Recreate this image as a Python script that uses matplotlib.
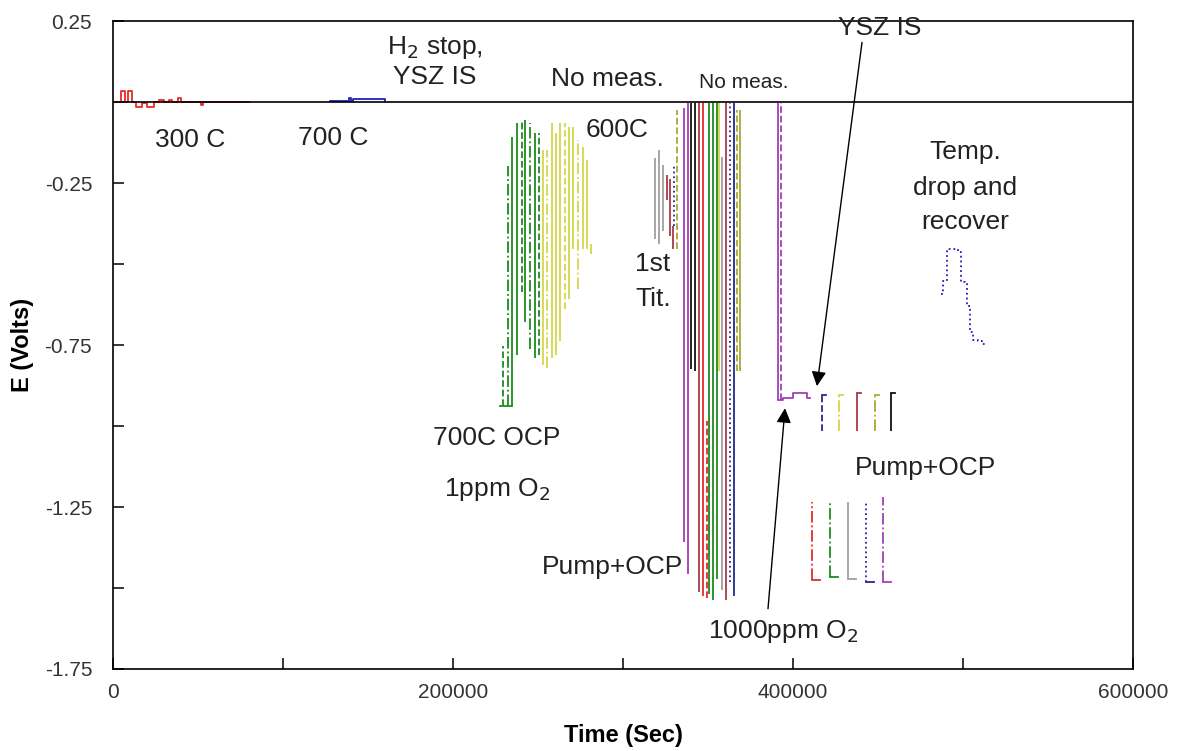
import matplotlib
matplotlib.use('Agg')
import matplotlib.pyplot as plt
from matplotlib.ticker import FixedLocator, FixedFormatter

plt.rcParams['font.family'] = ['Liberation Sans', 'DejaVu Sans']
plt.rcParams['axes.unicode_minus'] = False

# ---------------- data (time in s, potential in V) ----------------
# 300 C baseline (red) and 700 C baseline (blue)
red300_t = [0, 3000, 4500, 7000, 9000, 11000, 13500, 17000, 20000, 24000, 27000,
            30000, 33000, 35000, 38000, 40000, 52000, 53000, 80000]
red300_E = [0.0, 0.0, 0.035, 0.0, 0.035, 0.0, -0.015, -0.002, -0.016, 0.0, 0.006,
            0.0, 0.006, 0.0, 0.012, 0.0, -0.01, 0.0, 0.0]
blue700_t = [127600, 139000, 140000, 141000, 160000]
blue700_E = [0.002, 0.012, 0.002, 0.008, 0.002]

# 700C OCP, 1 ppm O2 (green then yellow)
g700_t = [229500, 232500, 234500, 237500, 240500, 242500, 245500, 248000, 250500]
g700_top = [-0.752, -0.199, -0.107, -0.064, -0.055, -0.055, -0.064, -0.095, -0.095]
g700_bot = [-0.939, -0.939, -0.939, -0.782, -0.586, -0.678, -0.761, -0.791, -0.782]
g700_base_t = [227600, 235000]
g700_base_E = [-0.939, -0.939]
y700_t = [253000, 255500, 258000, 260500, 263000, 266000, 268000, 270500, 273500,
          276500, 279000, 281000]
y700_top = [-0.147, -0.147, -0.064, -0.095, -0.064, -0.064, -0.077, -0.077, -0.117,
            -0.138, -0.178, -0.439]
y700_bot = [-0.813, -0.822, -0.791, -0.782, -0.739, -0.638, -0.607, -0.454, -0.577,
            -0.454, -0.454, -0.469]

# 600C, 1st titration
gray_tit_t = [318800, 321200, 323500]
gray_tit_top = [-0.172, -0.147, -0.193]
gray_tit_bot = [-0.423, -0.439, -0.399]
brown_tit_t = [325900, 327600, 329400]
brown_tit_top = [-0.224, -0.239, -0.383]
brown_tit_bot = [-0.301, -0.414, -0.454]
navy_tit_t = [330000]
navy_tit_top = [-0.199]
navy_tit_bot = [-0.383]
olive_tit_t = [332000]
olive_tit_top = [-0.025]
olive_tit_bot = [-0.454]

# Pump + OCP main cluster
purple_main_t = [335800, 338200]
purple_main_top = [-0.018, -0.003]
purple_main_bot = [-1.359, -1.457]
black_main_t = [340000, 342400]
black_main_top = [-0.003, -0.003]
black_main_bot = [-0.825, -0.831]
maroon_main_t = [344700, 360600]
maroon_main_top = [-0.003, -0.003]
maroon_main_bot = [-1.512, -1.537]
red_main_t = [347100, 349300]
red_main_top = [-0.003, -0.985]
red_main_bot = [-1.524, -1.530]
green_main_t = [350600, 352900, 355300]
green_main_top = [-0.003, -0.003, -0.003]
green_main_bot = [-1.518, -1.537, -1.472]
yellow_main_t = [356500]
yellow_main_top = [-0.003]
yellow_main_bot = [-0.831]
gray_main_t = [358200]
gray_main_top = [-0.169]
gray_main_bot = [-1.506]
navy_main_t = [362900, 365300]
navy_main_top = [-0.003, -0.003]
navy_main_bot = [-1.482, -1.524]
olive_main_t = [367100, 368800]
olive_main_top = [-0.025, -0.025]
olive_main_bot = [-0.831, -0.831]

# 1000 ppm O2
purple_1000_t = [391200, 392900]
purple_1000_top = [-0.003, -0.003]
purple_1000_bot = [-0.920, -0.920]
purple_step_t = [391200, 394100, 400000, 408200, 410000]
purple_step_E = [-0.920, -0.914, -0.899, -0.914, -0.914]
ocp1000_t = [417100, 427100, 437600, 448200, 457600]
ocp1000_top = [-0.905, -0.905, -0.899, -0.905, -0.899]
ocp1000_bot = [-1.015, -1.015, -1.015, -1.015, -1.015]
pump1000_t = [411200, 421800, 432400, 442900, 452900]
pump1000_top = [-1.236, -1.230, -1.236, -1.230, -1.220]
pump1000_bot = [-1.475, -1.466, -1.472, -1.482, -1.482]

# Temperature drop and recover (blue)
temp_t = [487000, 488200, 490600, 497100, 498800, 501200, 502400, 504100, 505900,
          508800, 511200, 513000]
temp_E = [-0.592, -0.552, -0.454, -0.463, -0.555, -0.560, -0.629, -0.709, -0.736,
          -0.739, -0.748, -0.748]

# ---------------- styling ----------------
RED = '#e52a2a'
MAROON = '#a83a48'
GREEN = '#1f8a1f'
YELLOW = '#d6d64a'
OLIVE = '#a8a830'
GRAY = '#a0a0a0'
NAVY = '#28288e'
BLUE = '#2020c0'
PURPLE = '#a040b0'
BLACK = '#111111'
LW = 1.3

fig = plt.figure(figsize=(11.78, 7.51), dpi=100)
ax = fig.add_axes([0.0959, 0.1092, 0.8659, 0.8628])


def vgroup(t, top, bot, colors, styles):
    n = len(t)
    cols = [colors[i % len(colors)] for i in range(n)]
    sts = [styles[i % len(styles)] for i in range(n)]
    ax.vlines(t, bot, top, colors=cols, linestyles=sts, linewidth=LW)


ax.step(red300_t, red300_E, where='post', color=RED, lw=LW)
ax.step(blue700_t, blue700_E, where='post', color=BLUE, lw=LW)

vgroup(g700_t, g700_top, g700_bot, [GREEN],
       ['--', '-.', '-', '-', '--', '-', '-.', '-', '--'])
ax.plot(g700_base_t, g700_base_E, color=GREEN, lw=LW)
vgroup(y700_t, y700_top, y700_bot, [YELLOW],
       ['-', '-.', '-', '-', '-', '--', '-', '-', '-.', '-', '-', '-'])

vgroup(gray_tit_t, gray_tit_top, gray_tit_bot, [GRAY], ['-'])
vgroup(brown_tit_t, brown_tit_top, brown_tit_bot, [MAROON], ['-'])
vgroup(navy_tit_t, navy_tit_top, navy_tit_bot, [NAVY], [':'])
vgroup(olive_tit_t, olive_tit_top, olive_tit_bot, [OLIVE], ['--'])

vgroup(purple_main_t, purple_main_top, purple_main_bot, [PURPLE], ['-'])
vgroup(black_main_t, black_main_top, black_main_bot, [BLACK], ['-'])
vgroup(maroon_main_t, maroon_main_top, maroon_main_bot, [MAROON], ['-'])
vgroup(red_main_t, red_main_top, red_main_bot, [RED], ['-', '--'])
vgroup(green_main_t, green_main_top, green_main_bot, [GREEN], ['-'])
vgroup(yellow_main_t, yellow_main_top, yellow_main_bot, [YELLOW], ['-'])
vgroup(gray_main_t, gray_main_top, gray_main_bot, [GRAY], ['-'])
vgroup(navy_main_t, navy_main_top, navy_main_bot, [NAVY], [':', '-'])
vgroup(olive_main_t, olive_main_top, olive_main_bot, [OLIVE], ['--', '-'])

vgroup(purple_1000_t, purple_1000_top, purple_1000_bot, [PURPLE], ['-', '--'])
ax.step(purple_step_t, purple_step_E, where='post', color=PURPLE, lw=LW)
ocp_cols = [NAVY, YELLOW, MAROON, OLIVE, BLACK]
ocp_sts = ['--', '-.', '-', '-.', '-']
vgroup(ocp1000_t, ocp1000_top, ocp1000_bot, ocp_cols, ocp_sts)
for t0, e0, c in zip(ocp1000_t, ocp1000_top, ocp_cols):
    ax.plot([t0, t0 + 2500], [e0, e0], color=c, lw=LW)
pump_cols = [RED, GREEN, GRAY, NAVY, PURPLE]
pump_sts = ['-.', '-.', '-', ':', '-.']
vgroup(pump1000_t, pump1000_top, pump1000_bot, pump_cols, pump_sts)
for t0, e0, c in zip(pump1000_t, pump1000_bot, pump_cols):
    ax.plot([t0, t0 + 4500], [e0, e0], color=c, lw=LW)

ax.step(temp_t, temp_E, where='post', color=BLUE, lw=LW, ls=':')

ax.axhline(0, color='black', lw=1.2)

# ---------------- axes ----------------
ax.set_xlim(0, 600000)
ax.set_ylim(-1.75, 0.25)
ax.xaxis.set_major_locator(FixedLocator([0, 200000, 400000, 600000]))
ax.xaxis.set_major_formatter(FixedFormatter(['0', '200000', '400000', '600000']))
ax.xaxis.set_minor_locator(FixedLocator([100000, 300000, 500000]))
ax.yaxis.set_major_locator(FixedLocator([0.25, -0.25, -0.75, -1.25, -1.75]))
ax.yaxis.set_major_formatter(FixedFormatter(['0.25', '-0.25', '-0.75', '-1.25', '-1.75']))
ax.yaxis.set_minor_locator(FixedLocator([0.0, -0.5, -1.0, -1.5]))
ax.tick_params(which='both', direction='in', length=8, width=1.1,
               labelsize=15, labelcolor='#333333')
ax.tick_params(axis='y', pad=15)
ax.tick_params(axis='x', pad=10)
for s in ax.spines.values():
    s.set_linewidth(1.2)

ax.set_xlabel('Time (Sec)', fontsize=17, fontweight='bold', labelpad=16)
ax.set_ylabel('E (Volts)', fontsize=17, fontweight='bold')
ax.yaxis.set_label_coords(-0.077, 0.5)

TXT = dict(fontsize=19, color='#222222', ha='center', va='center')
ax.text(45300, -0.117, '300 C', **TXT)
ax.text(129400, -0.11, '700 C', **TXT)
ax.text(189400, 0.169, 'H$_2$ stop,', **TXT)
ax.text(189400, 0.077, 'YSZ IS', **TXT)
ax.text(290600, 0.071, 'No meas.', **TXT)
ax.text(371200, 0.061, 'No meas.', fontsize=15, color='#222222', ha='center', va='center')
ax.text(451200, 0.227, 'YSZ IS', **TXT)
ax.text(296500, -0.086, '600C', **TXT)
ax.text(317600, -0.5, '1st', **TXT)
ax.text(317600, -0.607, 'Tit.', **TXT)
ax.text(225900, -1.037, '700C OCP', **TXT)
ax.text(225900, -1.196, '1ppm O$_2$', **TXT)
ax.text(294100, -1.436, 'Pump+OCP', **TXT)
ax.text(394100, -1.635, '1000ppm O$_2$', **TXT)
ax.text(478200, -1.129, 'Pump+OCP', **TXT)
ax.text(501200, -0.153, 'Temp.', **TXT)
ax.text(501200, -0.264, 'drop and', **TXT)
ax.text(501200, -0.371, 'recover', **TXT)

arrow = dict(arrowstyle='-|>', color='black', lw=1.0, mutation_scale=22,
             shrinkA=0, shrinkB=0)
ax.annotate('', xy=(414100, -0.877), xytext=(440600, 0.184), arrowprops=arrow)
ax.annotate('', xy=(395300, -0.945), xytext=(385300, -1.564), arrowprops=arrow)

fig.savefig('out.png', dpi=100)
